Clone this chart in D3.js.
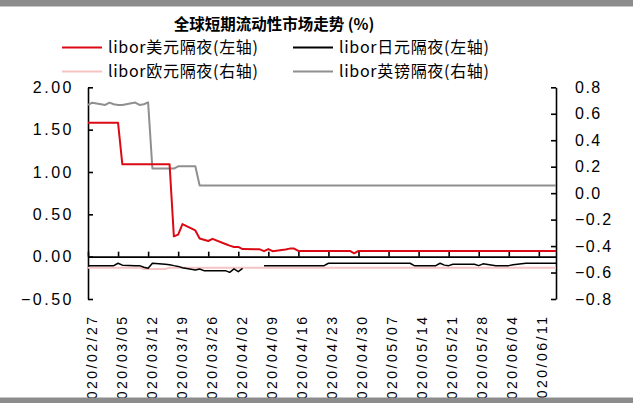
<!DOCTYPE html>
<html>
<head>
<meta charset="utf-8">
<script src="https://cdn.jsdelivr.net/npm/d3@7"></script>
<style>
  body { margin: 0; background: #fff; }
  text { font-family: "Liberation Sans", Arial, sans-serif; }
  .cjk { font-family: "Noto Sans CJK SC", sans-serif; }
</style>
</head>
<body>
<script>
// trading days, 2020
var days = [
  "02-27","02-28",
  "03-02","03-03","03-04","03-05","03-06",
  "03-09","03-10","03-11","03-12","03-13",
  "03-16","03-17","03-18","03-19","03-20",
  "03-23","03-24","03-25","03-26","03-27",
  "03-30","03-31","04-01","04-02","04-03",
  "04-06","04-07","04-08","04-09","04-10",
  "04-13","04-14","04-15","04-16","04-17",
  "04-20","04-21","04-22","04-23","04-24",
  "04-27","04-28","04-29","04-30","05-01",
  "05-04","05-05","05-06","05-07","05-08",
  "05-11","05-12","05-13","05-14","05-15",
  "05-18","05-19","05-20","05-21","05-22",
  "05-25","05-26","05-27","05-28","05-29",
  "06-01","06-02","06-03","06-04","06-05",
  "06-08","06-09","06-10","06-11","06-12",
  "06-15"
];

// libor USD overnight (left axis)
var usd = [
  1.58,1.58,
  1.58,1.58,1.58,1.58,1.09,
  1.09,1.09,1.09,1.09,1.09,
  1.09,1.09,0.24,0.26,0.385,
  0.31,0.215,0.20,0.185,0.21,
  0.15,0.13,0.115,0.115,0.09,
  0.087,0.087,0.065,0.09,0.065,
  0.085,0.095,0.095,0.067,0.067,
  0.067,0.067,0.067,0.067,0.067,
  0.067,0.067,0.04,0.067,0.067,
  0.067,0.067,0.067,0.067,0.067,
  0.067,0.067,0.067,0.067,0.067,
  0.067,0.067,0.067,0.067,0.067,
  0.067,0.067,0.067,0.067,0.067,
  0.067,0.067,0.067,0.067,0.067,
  0.067,0.067,0.067,0.067,0.067,
  0.067
];

// libor JPY overnight (left axis)
var jpy = [
  -0.106,-0.106,
  -0.106,-0.106,-0.106,-0.078,-0.10,
  -0.106,-0.106,-0.125,-0.138,-0.078,
  -0.09,-0.095,-0.106,-0.115,-0.13,
  -0.157,-0.145,-0.165,-0.165,-0.165,
  -0.165,-0.185,-0.145,-0.177,-0.138,
  null,null,-0.106,-0.106,-0.106,
  -0.106,-0.106,-0.106,-0.106,-0.106,
  -0.106,-0.106,-0.106,-0.078,-0.078,
  -0.078,-0.078,-0.078,-0.078,-0.078,
  -0.078,-0.078,-0.078,-0.078,-0.078,
  -0.078,-0.078,-0.106,-0.106,-0.106,
  -0.106,-0.078,-0.10,-0.106,-0.09,
  -0.09,-0.09,-0.09,-0.106,-0.085,
  -0.106,-0.106,-0.106,-0.106,-0.095,
  -0.078,-0.078,-0.078,-0.078,-0.078,
  -0.078
];

// libor EUR overnight (right axis)
var eur = [
  -0.563,-0.563,
  -0.563,-0.563,-0.563,-0.563,-0.563,
  -0.563,-0.563,-0.573,-0.573,-0.573,
  -0.573,-0.563,-0.563,-0.563,-0.563,
  -0.563,-0.563,-0.563,-0.563,-0.563,
  -0.563,-0.563,-0.563,-0.563,-0.563,
  -0.563,-0.563,-0.563,-0.563,-0.563,
  -0.563,-0.563,-0.563,-0.563,-0.563,
  -0.563,-0.563,-0.563,-0.563,-0.563,
  -0.563,-0.563,-0.563,-0.563,-0.563,
  -0.563,-0.563,-0.563,-0.563,-0.563,
  -0.563,-0.563,-0.563,-0.563,-0.563,
  -0.563,-0.563,-0.563,-0.563,-0.563,
  -0.563,-0.563,-0.563,-0.563,-0.563,
  -0.563,-0.563,-0.563,-0.563,-0.563,
  -0.563,-0.563,-0.563,-0.563,-0.563,
  -0.563
];

// libor GBP overnight (right axis)
var gbp = [
  0.667,0.684,
  0.667,0.684,0.672,0.667,0.667,
  0.685,0.667,0.672,0.686,0.186,
  0.186,0.186,0.186,0.203,0.203,
  0.203,0.058,0.058,0.058,0.058,
  0.058,0.058,0.058,0.058,0.058,
  0.058,0.058,0.058,0.058,0.058,
  0.058,0.058,0.058,0.058,0.058,
  0.058,0.058,0.058,0.058,0.058,
  0.058,0.058,0.058,0.058,0.058,
  0.058,0.058,0.058,0.058,0.058,
  0.058,0.058,0.058,0.058,0.058,
  0.058,0.058,0.058,0.058,0.058,
  0.058,0.058,0.058,0.058,0.058,
  0.058,0.058,0.058,0.058,0.058,
  0.058,0.058,0.058,0.058,0.058,
  0.058
];

var leftTicks = [-0.5, 0, 0.5, 1, 1.5, 2];
var rightTicks = [-0.8, -0.6, -0.4, -0.2, 0, 0.2, 0.4, 0.6, 0.8];
var xTickLabels = ["02/27","03/05","03/12","03/19","03/26","04/02","04/09","04/16",
                   "04/23","04/30","05/07","05/14","05/21","05/28","06/04","06/11"];

var title = "全球短期流动性市场走势 (%)";

var series = [
  { name: "libor欧元隔夜(右轴)", values: eur, axis: "R", color: "#f6c4c4", width: 2 },
  { name: "libor英镑隔夜(右轴)", values: gbp, axis: "R", color: "#8f8f8f", width: 2 },
  { name: "libor日元隔夜(左轴)", values: jpy, axis: "L", color: "#000000", width: 1.5 },
  { name: "libor美元隔夜(左轴)", values: usd, axis: "L", color: "#dc0a14", width: 2 }
];
// legend order: row by row
var legendOrder = [3, 2, 0, 1];

var W = 633, H = 403;
var plot = { left: 88, right: 556, top: 87.3, bottom: 299 };

var parse = function(s) { return d3.timeParse("%Y-%m-%d")("2020-" + s.replace("/", "-")); };
var dates = days.map(parse);

var x = d3.scaleTime()
  .domain([parse("02-27"), parse("06-15")])
  .range([plot.left, plot.right]);
var yL = d3.scaleLinear().domain([-0.5, 2]).range([plot.bottom, plot.top]);
var yR = d3.scaleLinear().domain([-0.8, 0.8]).range([plot.bottom, plot.top]);

var svg = d3.select("body").append("svg")
  .attr("width", W)
  .attr("height", H);

svg.append("rect").attr("width", W).attr("height", H).attr("fill", "#fff");

svg.append("defs").append("clipPath").attr("id", "plotclip")
  .append("rect")
    .attr("x", plot.left).attr("y", plot.top - 2)
    .attr("width", plot.right - plot.left).attr("height", plot.bottom - plot.top + 4);

// title
svg.append("text")
  .attr("class", "cjk")
  .attr("x", 274).attr("y", 25)
  .attr("dy", "0.35em")
  .attr("text-anchor", "middle")
  .attr("font-size", 15.5)
  .attr("font-weight", "bold")
  .text(title);

// legend
var legend = svg.append("g").attr("class", "legend");
legendOrder.forEach(function(si, i) {
  var s = series[si];
  var lx = (i % 2 === 0) ? 62 : 293;
  var ly = (i < 2) ? 47.5 : 71.5;
  legend.append("line")
    .attr("x1", lx).attr("x2", lx + 40)
    .attr("y1", ly).attr("y2", ly)
    .attr("stroke", s.color)
    .attr("stroke-width", 2);
  legend.append("text")
    .attr("class", "cjk")
    .attr("x", lx + 46).attr("y", ly)
    .attr("dy", "0.36em")
    .attr("font-size", 16)
    .attr("textLength", 150)
    .attr("lengthAdjust", "spacing")
    .text(s.name);
});

// axes
var axisL = d3.axisLeft(yL)
  .tickValues(leftTicks)
  .tickSizeInner(-5).tickSizeOuter(0)
  .tickPadding(14)
  .tickFormat(d3.format(".2f"));

var axisR = d3.axisRight(yR)
  .tickValues(rightTicks)
  .tickSizeInner(-5).tickSizeOuter(0)
  .tickPadding(19)
  .tickFormat(d3.format(".1f"));

var axisX = d3.axisBottom(x)
  .tickValues(xTickLabels.map(parse))
  .tickSizeInner(-5).tickSizeOuter(0)
  .tickFormat("");

function styleAxis(g, spacing) {
  g.select(".domain").attr("stroke", "#000").attr("stroke-width", 1.6);
  g.selectAll(".tick line").attr("stroke", "#000").attr("stroke-width", 1.6);
  g.selectAll(".tick text")
    .attr("fill", "#000")
    .attr("font-size", 16)
    .attr("letter-spacing", spacing || "1.5px")
    .attr("font-family", "'Liberation Sans', Arial, sans-serif");
}

svg.append("g")
  .attr("transform", "translate(" + plot.left + ",0)")
  .call(axisL).call(styleAxis, "2.5px");

svg.append("g")
  .attr("transform", "translate(" + plot.right + ",0)")
  .call(axisR).call(styleAxis, "1.5px");

svg.append("g")
  .attr("transform", "translate(0," + yL(0) + ")")
  .call(axisX).call(styleAxis);

// rotated date labels (the leading "2" runs under the bottom bar, as in the source)
svg.append("g").selectAll("text")
  .data(xTickLabels)
  .enter().append("text")
    .attr("transform", function(d) {
      return "translate(" + (x(parse(d)) + 8.5) + ",314.5) rotate(-90)";
    })
    .attr("text-anchor", "end")
    .attr("font-size", 14)
    .attr("letter-spacing", "2.5px")
    .attr("fill", "#000")
    .text(function(d) { return "2020/" + d; });

// series lines
var lines = svg.append("g").attr("clip-path", "url(#plotclip)");
series.forEach(function(s) {
  var y = s.axis === "L" ? yL : yR;
  var line = d3.line()
    .defined(function(d) { return d[1] != null; })
    .x(function(d) { return x(d[0]); })
    .y(function(d) { return y(d[1]); });
  lines.append("path")
    .datum(dates.map(function(d, i) { return [d, s.values[i]]; }))
    .attr("fill", "none")
    .attr("stroke", s.color)
    .attr("stroke-width", s.width)
    .attr("stroke-linejoin", "round")
    .attr("d", line);
});

// frame bars
svg.append("rect").attr("x", 0).attr("y", 0).attr("width", W).attr("height", 6.5).attr("fill", "#8c8c8c");
svg.append("rect").attr("x", 0).attr("y", 397.5).attr("width", W).attr("height", 6).attr("fill", "#8c8c8c");
</script>
</body>
</html>
